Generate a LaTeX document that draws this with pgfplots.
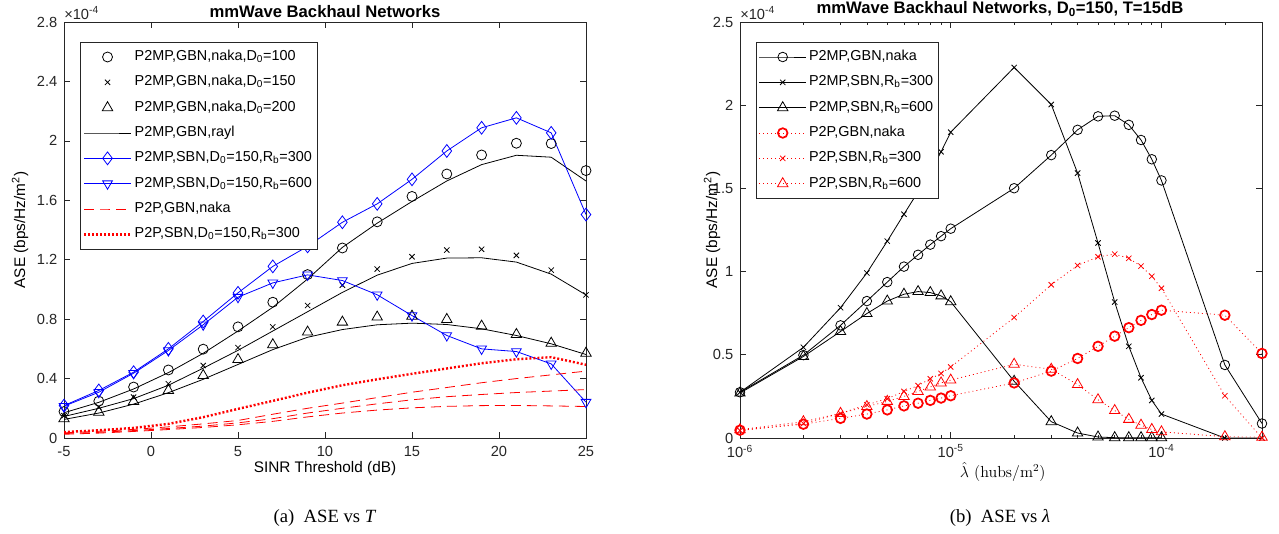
\documentclass[border=0pt]{standalone}
\usepackage{fontspec}
\usepackage{pgfplots}
\usepackage{pgfplotstable}
\pgfplotsset{compat=1.18}
\newfontfamily\hv{Liberation Sans}
\newfontfamily\tms{Liberation Serif}

\pgfplotstableread{
x   c100  x150  t200  r100  r150  r200  d300  v600  pa    pb    pc    pd
-5  0.178 0.150 0.129 0.170 0.145 0.125 0.218 0.214 0.035 0.030 0.025 0.040
-3  0.248 0.208 0.174 0.240 0.200 0.168 0.320 0.308 0.045 0.038 0.033 0.052
-1  0.343 0.275 0.246 0.330 0.265 0.228 0.443 0.436 0.058 0.050 0.044 0.068
1   0.458 0.365 0.320 0.440 0.355 0.305 0.600 0.589 0.075 0.064 0.057 0.095
3   0.598 0.488 0.421 0.570 0.470 0.395 0.784 0.762 0.095 0.080 0.071 0.140
5   0.748 0.608 0.528 0.720 0.590 0.495 0.977 0.948 0.118 0.102 0.089 0.196
7   0.914 0.748 0.628 0.880 0.720 0.595 1.155 1.044 0.160 0.130 0.112 0.250
9   1.100 0.892 0.713 1.070 0.850 0.678 1.290 1.098 0.200 0.168 0.142 0.305
11  1.279 1.029 0.780 1.283 0.980 0.730 1.452 1.060 0.235 0.200 0.168 0.355
13  1.455 1.137 0.814 1.446 1.096 0.762 1.576 0.964 0.272 0.230 0.188 0.395
15  1.626 1.220 0.820 1.592 1.175 0.773 1.741 0.824 0.308 0.257 0.203 0.432
17  1.777 1.265 0.798 1.730 1.211 0.764 1.932 0.690 0.340 0.278 0.213 0.468
19  1.905 1.270 0.753 1.840 1.213 0.735 2.088 0.600 0.372 0.293 0.218 0.503
21  1.984 1.229 0.697 1.903 1.184 0.690 2.155 0.582 0.400 0.306 0.219 0.530
23  1.982 1.130 0.638 1.890 1.103 0.634 2.054 0.499 0.425 0.316 0.216 0.544
25  1.800 0.963 0.571 1.730 0.963 0.562 1.504 0.241 0.450 0.326 0.212 0.493
}\Ldata

\pgfplotstableread{
x     bc    bx    bt    rc    rx    rt
1e-6  0.275 0.275 0.270 0.047 0.045 0.050
2e-6  0.498 0.545 0.490 0.083 0.087 0.098
3e-6  0.677 0.783 0.640 0.118 0.148 0.148
4e-6  0.823 0.992 0.748 0.144 0.200 0.189
5e-6  0.937 1.183 0.823 0.169 0.236 0.220
6e-6  1.030 1.345 0.864 0.193 0.280 0.250
7e-6  1.101 1.480 0.880 0.209 0.315 0.280
8e-6  1.162 1.600 0.874 0.226 0.356 0.307
9e-6  1.213 1.720 0.854 0.240 0.388 0.331
1e-5  1.258 1.838 0.819 0.254 0.427 0.348
2e-5  1.501 2.227 0.341 0.331 0.724 0.443
3e-5  1.700 2.004 0.098 0.402 0.921 0.413
4e-5  1.852 1.592 0.030 0.478 1.037 0.321
5e-5  1.933 1.172 0.006 0.551 1.089 0.230
6e-5  1.937 0.817 0.002 0.612 1.105 0.165
7e-5  1.882 0.551 0.002 0.663 1.080 0.112
8e-5  1.791 0.362 0.002 0.707 1.033 0.077
9e-5  1.675 0.226 0.002 0.742 0.972 0.051
1e-4  1.548 0.144 0.002 0.768 0.900 0.037
2e-4  0.439 0.000 nan   0.738 0.254 0.008
3e-4  0.087 0.000 nan   0.508 0.000 0.005
}\Rdata

\pgfplotsset{
 mystyle/.style={
  scale only axis, width=391.5pt, height=312pt, anchor=south west,
  axis line style={black!85, line width=0.5pt},
  tick style={black!85, line width=0.5pt},
  major tick length=4.5pt, minor tick length=2.5pt,
  tick align=inside,
  ticklabel style={font=\hv\fontsize{11}{13}\selectfont, text=black!85},
  yticklabel style={xshift=-1.5pt},
  /pgf/number format/assume math mode=true,
  legend cell align=left,
  legend style={font=\hv\fontsize{10.8}{12}\selectfont, draw=black!85, line width=0.5pt, fill=white,
    at={(0,1)}, anchor=north west, xshift=12pt, yshift=-15pt,
    row sep=3pt, inner xsep=2pt, inner ysep=3pt,
    nodes={inner ysep=2pt, text height=8.5pt, text depth=3.5pt}},
  legend image code/.code={\draw[mark repeat=2,mark phase=2,##1] plot coordinates {(0pt,0pt) (17.5pt,0pt) (35pt,0pt)};},
 }
}

\begin{document}
\begin{tikzpicture}
\useasboundingbox (0,0) rectangle (959.25pt,399.75pt);

\begin{axis}[mystyle, at={(48pt,71.25pt)},
  xticklabel style={yshift=-3pt},
  xmin=-5, xmax=25, ymin=0, ymax=2.8,
  xtick={-5,0,5,10,15,20,25}, xticklabels={-5,0,5,10,15,20,25},
  ytick={0,0.4,0.8,1.2,1.6,2.0,2.4,2.8}, yticklabels={0,0.4,0.8,1.2,1.6,2,2.4,2.8},
]
\addplot[only marks, black, mark=o, mark size=3.75pt, line width=0.6pt] table[x=x,y=c100]{\Ldata};
\addlegendentry{P2MP,GBN,naka,D\textsubscript{0}=100}
\addplot[only marks, black, mark=x, mark size=2.8pt, line width=0.6pt] table[x=x,y=x150]{\Ldata};
\addlegendentry{P2MP,GBN,naka,D\textsubscript{0}=150}
\addplot[only marks, black, mark=triangle, mark size=4.5pt, line width=0.6pt] table[x=x,y=t200]{\Ldata};
\addlegendentry{P2MP,GBN,naka,D\textsubscript{0}=200}
\addplot[black, no marks, line width=0.6pt] table[x=x,y=r100]{\Ldata};
\addlegendentry{P2MP,GBN,rayl}
\addplot[black, no marks, line width=0.6pt, forget plot] table[x=x,y=r150]{\Ldata};
\addplot[black, no marks, line width=0.6pt, forget plot] table[x=x,y=r200]{\Ldata};
\addplot[blue, mark=diamond, mark size=4.8pt, line width=0.6pt] table[x=x,y=d300]{\Ldata};
\addlegendentry{P2MP,SBN,D\textsubscript{0}=150,R\textsubscript{b}=300}
\addplot[blue, mark=triangle, mark size=4.2pt, mark options={rotate=180}, line width=0.6pt] table[x=x,y=v600]{\Ldata};
\addlegendentry{P2MP,SBN,D\textsubscript{0}=150,R\textsubscript{b}=600}
\addplot[red, no marks, line width=0.6pt, dash pattern=on 7.5pt off 4.5pt] table[x=x,y=pa]{\Ldata};
\addlegendentry{P2P,GBN,naka}
\addplot[red, no marks, line width=0.6pt, dash pattern=on 7.5pt off 4.5pt, forget plot] table[x=x,y=pb]{\Ldata};
\addplot[red, no marks, line width=0.6pt, dash pattern=on 7.5pt off 4.5pt, forget plot] table[x=x,y=pc]{\Ldata};
\addplot[red, no marks, line width=1.8pt, dash pattern=on 1.5pt off 1.5pt] table[x=x,y=pd]{\Ldata};
\addlegendentry{P2P,SBN,D\textsubscript{0}=150,R\textsubscript{b}=300}
\end{axis}

\begin{axis}[mystyle, at={(555pt,71.25pt)},
  xticklabel style={inner sep=1pt, yshift=-4pt},
  xmode=log, xmin=1e-6, xmax=3e-4, ymin=0, ymax=2.5,
  xtick={1e-6,1e-5,1e-4},
  xticklabels={10\textsuperscript{-6},10\textsuperscript{-5},10\textsuperscript{-4}},
  minor xtick={2e-6,3e-6,4e-6,5e-6,6e-6,7e-6,8e-6,9e-6,2e-5,3e-5,4e-5,5e-5,6e-5,7e-5,8e-5,9e-5,2e-4,3e-4},
  ytick={0,0.5,1,1.5,2,2.5}, yticklabels={0,0.5,1,1.5,2,2.5},
]
\addplot[black, mark=o, mark size=3.6pt, line width=0.6pt] table[x=x,y=bc]{\Rdata};
\addlegendentry{P2MP,GBN,naka}
\addplot[black, mark=x, mark size=2.8pt, line width=0.6pt] table[x=x,y=bx]{\Rdata};
\addlegendentry{P2MP,SBN,R\textsubscript{b}=300}
\addplot[black, mark=triangle, mark size=4.5pt, line width=0.6pt] table[x=x,y=bt]{\Rdata};
\addlegendentry{P2MP,SBN,R\textsubscript{b}=600}
\addplot[red, line width=0.6pt, dash pattern=on 0.7pt off 2.3pt, mark=o, mark size=3.6pt, mark options={solid, line width=1.3pt}] table[x=x,y=rc]{\Rdata};
\addlegendentry{P2P,GBN,naka}
\addplot[red, line width=0.6pt, dash pattern=on 0.7pt off 2.3pt, mark=x, mark size=2.8pt, mark options={solid}] table[x=x,y=rx]{\Rdata};
\addlegendentry{P2P,SBN,R\textsubscript{b}=300}
\addplot[red, line width=0.6pt, dash pattern=on 0.7pt off 2.3pt, mark=triangle, mark size=4.5pt, mark options={solid}] table[x=x,y=rt]{\Rdata};
\addlegendentry{P2P,SBN,R\textsubscript{b}=600}
\end{axis}

% titles, labels, exponent markers, captions
\node[font=\hv\fontsize{12.5}{14}\selectfont\bfseries] at (243.75pt,390.75pt) {mmWave Backhaul Networks};
\node[font=\hv\fontsize{12.5}{14}\selectfont\bfseries] at (750pt,393pt) {mmWave Backhaul Networks, D\textsubscript{0}=150, T=15dB};
\node[anchor=west, inner sep=0pt, font=\hv\fontsize{11}{13}\selectfont, text=black!85] at (48pt,390pt) {×10\textsuperscript{-4}};
\node[anchor=west, inner sep=0pt, font=\hv\fontsize{11}{13}\selectfont, text=black!85] at (555pt,390pt) {×10\textsuperscript{-4}};
\node[rotate=90, font=\hv\fontsize{11.5}{13}\selectfont] at (15pt,227.25pt) {ASE (bps/Hz/m\textsuperscript{2})};
\node[rotate=90, font=\hv\fontsize{11.5}{13}\selectfont] at (534pt,227.25pt) {ASE (bps/Hz/m\textsuperscript{2})};
\node[font=\hv\fontsize{11.5}{13}\selectfont] at (243.75pt,48pt) {SINR Threshold (dB)};
\node[inner sep=0pt, font=\fontsize{12}{14}\selectfont] at (752pt,46pt) {$\hat{\lambda}$ (hubs/m$^2$)};
\node[font=\tms\fontsize{14}{16}\selectfont] at (243.75pt,11.25pt) {(a)\enspace ASE vs \textit{T}};
\node[font=\tms\fontsize{14}{16}\selectfont] at (750pt,11.25pt) {(b)\enspace ASE vs \textit{λ}};
\end{tikzpicture}
\end{document}
